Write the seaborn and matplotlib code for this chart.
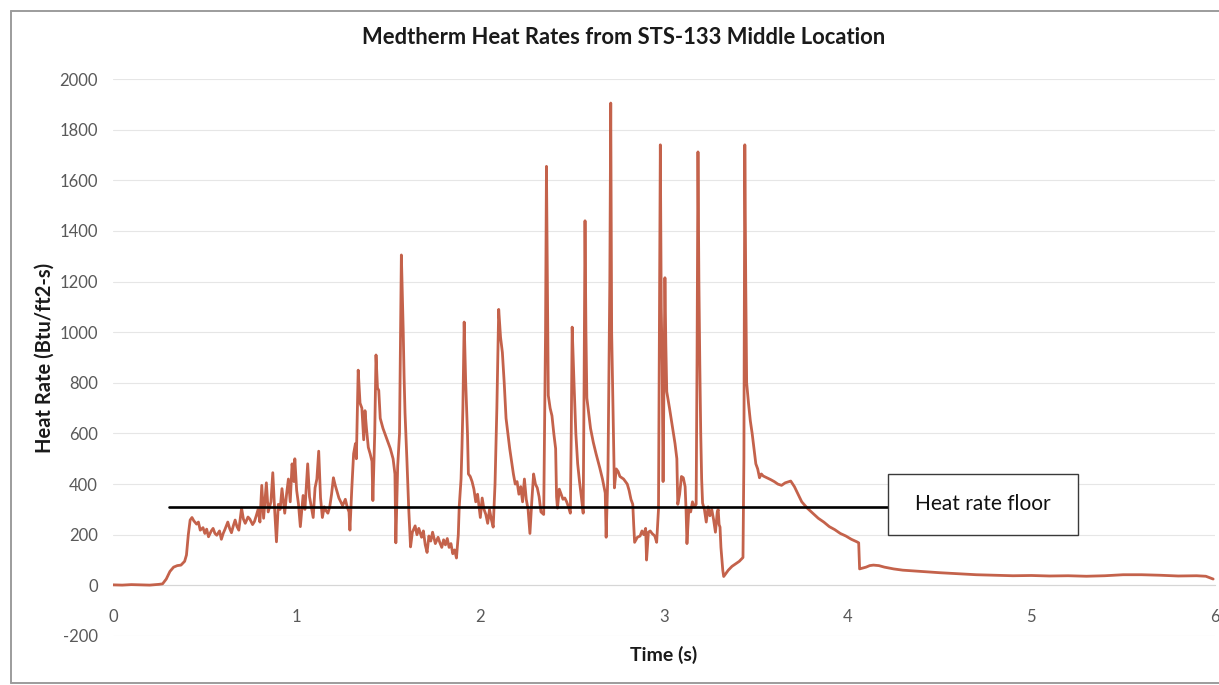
import matplotlib
matplotlib.use("Agg")
import matplotlib.pyplot as plt
from matplotlib.patches import Rectangle
from matplotlib.lines import Line2D
import numpy as np
import pandas as pd
import seaborn as sns

# Medtherm gauge trace (time in seconds, heat rate in Btu/ft2-s)
time_s = [
    0.00, 0.05, 0.10, 0.15, 0.20, 0.25, 0.27, 0.29, 0.31, 0.33, 0.35, 0.37, 0.39, 0.40, 0.41, 0.42, 0.43,
    0.44, 0.455, 0.465, 0.475, 0.49, 0.50, 0.51, 0.52, 0.535, 0.545, 0.555, 0.565, 0.58, 0.59, 0.60, 0.61,
    0.625, 0.635, 0.645, 0.655, 0.665, 0.675, 0.685, 0.70, 0.71, 0.72, 0.735, 0.745, 0.76, 0.77, 0.78, 0.79,
    0.80, 0.81, 0.82, 0.835, 0.845, 0.86, 0.87, 0.88, 0.89, 0.90, 0.91, 0.92, 0.935, 0.945, 0.955, 0.965,
    0.975, 0.985, 0.99, 1.00, 1.01, 1.02, 1.035, 1.045, 1.06, 1.07, 1.08, 1.09, 1.10, 1.11, 1.12, 1.13,
    1.14, 1.15, 1.16, 1.17, 1.18, 1.19, 1.20, 1.21, 1.22, 1.23, 1.24, 1.25, 1.265, 1.275, 1.285, 1.29,
    1.30, 1.31, 1.32, 1.325, 1.335,
    1.345, 1.355, 1.365, 1.372, 1.38, 1.39, 1.40, 1.41, 1.415, 1.425, 1.432, 1.44, 1.447, 1.455, 1.47,
    1.49, 1.51, 1.525, 1.535, 1.54, 1.55, 1.56, 1.57, 1.58, 1.585, 1.59, 1.60, 1.61, 1.62,
    1.63, 1.645, 1.655, 1.665, 1.68, 1.69, 1.70, 1.71, 1.72, 1.73, 1.74, 1.755, 1.77, 1.78, 1.79, 1.80,
    1.81, 1.82, 1.83, 1.84, 1.85, 1.86, 1.87, 1.88, 1.885,
    1.895, 1.90, 1.905, 1.912, 1.92, 1.93, 1.935, 1.945, 1.955, 1.965, 1.975, 1.985, 1.995, 2.00, 2.01,
    2.02, 2.03, 2.04, 2.05, 2.06, 2.07, 2.08, 2.09, 2.10, 2.11, 2.12, 2.13, 2.14, 2.15, 2.16, 2.17, 2.18,
    2.19, 2.20, 2.21, 2.22, 2.23, 2.24, 2.25, 2.26, 2.27, 2.28, 2.29, 2.30, 2.31, 2.32, 2.33, 2.345,
    2.355, 2.36,
    2.365, 2.37, 2.38, 2.39, 2.40, 2.41, 2.415, 2.42, 2.43, 2.44, 2.45, 2.46, 2.47, 2.48, 2.49, 2.495,
    2.50, 2.51, 2.52, 2.53, 2.54, 2.55, 2.56, 2.565, 2.57, 2.575, 2.58, 2.59, 2.60, 2.615, 2.63, 2.65,
    2.665, 2.68, 2.685, 2.69, 2.695, 2.705, 2.71,
    2.715, 2.72, 2.725, 2.73, 2.74, 2.75, 2.76, 2.78, 2.80, 2.81, 2.82, 2.83, 2.835, 2.84, 2.855, 2.87,
    2.88, 2.89, 2.90, 2.905, 2.915, 2.925, 2.935, 2.95, 2.96, 2.97, 2.975, 2.98, 2.985, 2.99, 2.995,
    3.00, 3.005, 3.01, 3.015,
    3.03, 3.045, 3.06, 3.07, 3.075, 3.085, 3.095, 3.105, 3.115, 3.12, 3.125, 3.135, 3.145, 3.155, 3.165,
    3.175, 3.18, 3.185, 3.19, 3.195, 3.20, 3.205, 3.21, 3.22, 3.23, 3.24, 3.25, 3.26, 3.27, 3.28, 3.29,
    3.295, 3.30, 3.305, 3.31, 3.32, 3.325, 3.335, 3.35, 3.37, 3.39, 3.41, 3.43, 3.435, 3.44,
    3.445, 3.45, 3.46, 3.47, 3.48, 3.49, 3.50, 3.51, 3.52, 3.53, 3.54, 3.56, 3.58, 3.60, 3.62, 3.64,
    3.66, 3.69, 3.71, 3.73, 3.75, 3.78, 3.81, 3.84, 3.87, 3.90, 3.93, 3.96, 3.99, 4.02, 4.05, 4.06, 4.065,
    4.08, 4.10, 4.12, 4.14, 4.17, 4.20, 4.25, 4.30, 4.40, 4.50, 4.60, 4.70, 4.80, 4.90, 5.00, 5.10,
    5.20, 5.30, 5.40, 5.50, 5.60, 5.70, 5.80, 5.90, 5.95, 5.99,
]

heat_rate = [
    2, 1, 3, 2, 1, 4, 6, 25, 55, 72, 78, 80, 95, 120, 200, 258, 268,
    255, 242, 250, 218, 228, 205, 222, 192, 215, 225, 205, 198, 215, 182, 205, 222,
    250, 225, 208, 235, 258, 232, 218, 305, 262, 245, 270, 262, 240, 252, 275, 300,
    250, 395, 265, 405, 290, 330, 445, 300, 172, 320, 300, 382, 285, 360, 420, 330,
    480, 410, 500, 375, 320, 232, 355, 300, 480, 350, 310, 268, 385, 420, 530, 345,
    268, 310, 295, 285, 310, 360, 425, 395, 370, 345, 330, 315, 340, 310, 290, 218,
    380, 520, 560, 500, 850,
    720, 700, 575, 690, 620, 545, 520, 490, 335, 600, 910, 780, 770, 660, 620,
    580, 540, 500, 440, 168, 470, 600, 1305, 1010, 820, 680, 500, 305, 152,
    210, 235, 200, 225, 190, 215, 160, 130, 195, 175, 210, 165, 190, 168, 150, 180,
    160, 185, 150, 165, 125, 140, 108, 200, 310,
    420, 545, 700, 1040, 810, 600, 440, 430, 410, 380, 330, 360, 300, 268, 345,
    300, 280, 245, 300, 260, 230, 400, 700, 1090, 980, 920, 800, 660, 600, 540, 490, 440,
    400, 410, 360, 390, 330, 420, 340, 300, 205, 330, 440, 400, 385, 350, 290, 280,
    1000, 1655,
    1200, 750, 700, 670, 600, 540, 350, 305, 380, 360, 340, 345, 330, 310, 285, 600,
    1020, 800, 600, 480, 410, 350, 285, 800, 1440, 1000, 740, 680, 620, 565, 520, 465,
    420, 365, 190, 330, 455, 1200, 1905,
    1000, 800, 600, 385, 460, 450, 430, 420, 400, 375, 340, 320, 240, 170, 190, 195,
    215, 200, 225, 100, 210, 215, 205, 195, 170, 300, 1000, 1740, 1100, 870, 410,
    800, 1215, 950, 765,
    700, 630, 560, 500, 320, 360, 430, 425, 390, 300, 165, 300, 290, 330, 310,
    320, 900, 1712, 1200, 870, 600, 420, 325, 300, 250, 310, 275, 300, 260, 210, 290,
    300, 240, 230, 150, 60, 35, 45, 60, 75, 85, 95, 110, 500, 1740,
    1200, 800, 720, 650, 600, 540, 480, 460, 425, 440, 432, 425, 418, 410, 400, 395,
    405, 412, 390, 360, 330, 305, 285, 265, 250, 232, 220, 205, 195, 182, 172, 168, 65,
    68, 72, 78, 80, 78, 72, 65, 60, 55, 50, 46, 42, 40, 38, 39, 37,
    38, 36, 38, 42, 42, 40, 37, 38, 36, 25,
]

# Reference floor level and its extent
floor_level = 310
floor_start, floor_end = 0.305, 4.22

x_ticks = [0, 1, 2, 3, 4, 5, 6]
y_ticks = list(range(-200, 2001, 200))

df = pd.DataFrame({"Time (s)": time_s, "Heat Rate": heat_rate})

sns.set_theme(style="white")
plt.rcParams["font.family"] = ["Lato", "DejaVu Sans"]

W, H = 1219, 685
fig = plt.figure(figsize=(W / 100, H / 100), dpi=100)
fig.patch.set_facecolor("white")

# chart frame: left, top and bottom edges (the right edge lies beyond the canvas)
fl, fb, ft = 11 / W, 2 / H, 1 - 11 / H
for xs, ys in [([fl, fl], [fb, ft]), ([fl, 1.0], [ft, ft]), ([fl, 1.0], [fb, fb])]:
    fig.add_artist(Line2D(xs, ys, transform=fig.transFigure, color="#9c9c9c", linewidth=1.4))

ax = fig.add_axes([113 / W, 49 / H, 1102 / W, 557 / H])
ax.set_facecolor("white")

sns.lineplot(data=df, x="Time (s)", y="Heat Rate", ax=ax, estimator=None, sort=False,
             color="#c4624b", linewidth=2.0, zorder=3)

ax.plot([floor_start, floor_end], [floor_level, floor_level], color="black", linewidth=1.9, zorder=4)

# label box for the floor line
box_x0, box_x1 = 4.22, 5.255
box_y0, box_y1 = 198, 439
ax.add_patch(Rectangle((box_x0, box_y0), box_x1 - box_x0, box_y1 - box_y0,
                       facecolor="white", edgecolor="#3a3a3a", linewidth=1.0, zorder=5,
                       clip_on=False))
ax.text((box_x0 + box_x1) / 2, 322, "Heat rate floor", ha="center", va="center",
        fontsize=15, color="#111111", zorder=6)

ax.set_xlim(0, 6)
ax.set_ylim(-200, 2000)
ax.set_xticks(x_ticks)
ax.set_yticks(y_ticks)
ax.set_xticklabels([str(v) for v in x_ticks])
ax.set_yticklabels([str(v) for v in y_ticks])

ax.grid(axis="y", color="#e6e6e6", linewidth=0.8, zorder=0)
ax.grid(axis="x", visible=False)
for side in ["top", "right", "left"]:
    ax.spines[side].set_visible(False)
ax.spines["bottom"].set_position(("data", 0))
ax.spines["bottom"].set_color("#d6d6d6")
ax.spines["bottom"].set_linewidth(0.8)

ax.tick_params(axis="y", length=0, pad=11, labelsize=12, labelcolor="#595959")
ax.tick_params(axis="x", length=0, pad=17, labelsize=12, labelcolor="#595959")

ax.set_xlabel("")
ax.set_ylabel("")
fig.text(664 / W, 1 - 655 / H, "Time (s)", ha="center", va="center",
         fontsize=14, fontweight="bold", color="#1a1a1a")
fig.text(45 / W, 1 - 358 / H, "Heat Rate (Btu/ft2-s)", ha="center", va="center",
         rotation=90, fontsize=14.5, fontweight="bold", color="#1a1a1a")
fig.text(624 / W, 1 - 37 / H, "Medtherm Heat Rates from STS-133 Middle Location",
         ha="center", va="center", fontsize=15.8, fontweight="bold", color="#1a1a1a")

fig.savefig("out.png", dpi=100, facecolor="white")
